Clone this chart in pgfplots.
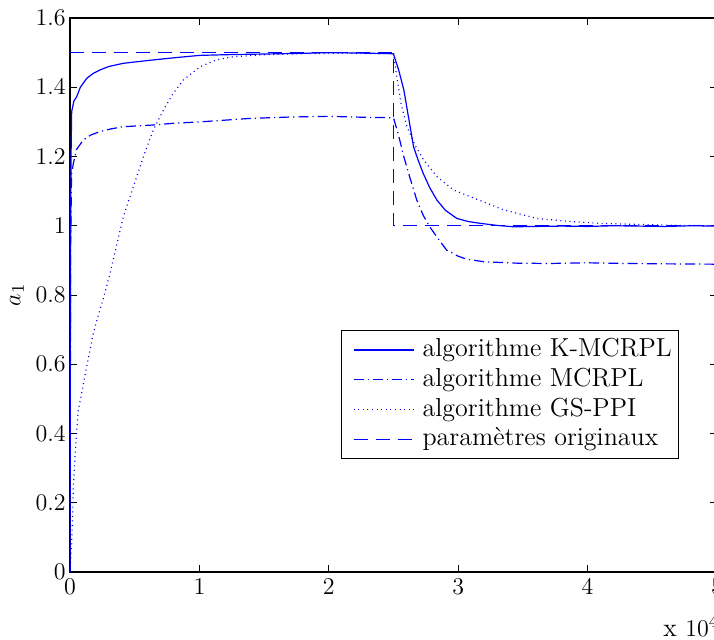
\documentclass[border=0pt]{standalone}
\usepackage{pgfplots}
\pgfplotsset{compat=1.18}
\begin{document}
\begin{tikzpicture}
\useasboundingbox (-35pt,-33.5pt) rectangle (322pt,286pt);
\clip (-35pt,-33.5pt) rectangle (322pt,286pt);
\begin{axis}[
  at={(0pt,0pt)}, anchor=south west,
  scale only axis,
  width=323.5pt, height=277pt,
  xmin=0, xmax=5, ymin=0, ymax=1.6,
  xtick={0,1,2,3,4,5},
  ytick={0,0.2,0.4,0.6,0.8,1,1.2,1.4,1.6},
  tick align=inside,
  major tick length=3.5pt,
  axis line style={line width=0.6pt},
  every tick/.style={black, line width=0.5pt},
  tick label style={font=\fontsize{13}{15}\selectfont},
  yticklabel style={inner xsep=2pt},
  ylabel={$a_1$},
  ylabel style={at={(axis description cs:-0.082,0.5)}, anchor=center, font=\fontsize{13}{15}\selectfont},
  legend cell align=left,
  legend style={at={(0.419,0.437)}, anchor=north west, draw=black, line width=0.5pt, fill=white,
    font=\fontsize{13}{15}\selectfont, inner xsep=1.5pt, inner ysep=2.3pt, row sep=0pt,
    nodes={inner ysep=1.7pt, inner xsep=2pt, text height=9pt, text depth=2.5pt}},
  legend image code/.code={\path[draw=none] (0pt,0pt) -- (37pt,0pt); \draw[#1, draw=blue] (4.5pt,0pt) -- (34.5pt,0pt);},
]
\addplot[blue, line width=0.6pt] coordinates {
(0,0) (0.004,0.9) (0.008,1.2) (0.013,1.33) (0.03,1.36) (0.052,1.373) (0.08,1.40) (0.13,1.426)
(0.18,1.44) (0.232,1.45) (0.3,1.46) (0.41,1.469) (0.5,1.473) (0.62,1.478) (0.8,1.485)
(1.0,1.492) (1.2,1.494) (1.5,1.496) (1.8,1.498) (2.0,1.50) (2.2,1.499) (2.48,1.497) (2.50,1.496)
(2.54,1.45) (2.58,1.392) (2.62,1.305) (2.655,1.228) (2.69,1.19) (2.73,1.151) (2.78,1.11)
(2.836,1.074) (2.9,1.045) (2.99,1.021) (3.08,1.012) (3.17,1.007) (3.3,1.001) (3.43,0.997)
(3.6,0.998) (3.8,0.999) (4.0,0.998) (4.2,1.0) (4.4,0.999) (4.6,0.998) (4.8,1.0) (5.0,0.999)
};
\addlegendentry{algorithme K-MCRPL}
\addplot[blue, line width=0.6pt, dash pattern=on 5pt off 2pt on 0.6pt off 2pt] coordinates {
(0,0) (0.005,0.95) (0.012,1.15) (0.026,1.18) (0.05,1.22) (0.103,1.248) (0.16,1.262) (0.232,1.272)
(0.32,1.28) (0.41,1.286) (0.644,1.291) (0.8,1.296) (1.005,1.30) (1.2,1.305) (1.39,1.31)
(1.7,1.314) (2.0,1.316) (2.3,1.313) (2.5,1.312) (2.54,1.26) (2.58,1.199) (2.63,1.135)
(2.68,1.074) (2.73,1.03) (2.78,0.997) (2.85,0.96) (2.91,0.93) (3.0,0.912) (3.07,0.903)
(3.2,0.896) (3.45,0.892) (3.7,0.891) (4.0,0.893) (4.3,0.891) (4.6,0.890) (5.0,0.889)
};
\addlegendentry{algorithme MCRPL}
\addplot[blue, line width=0.6pt, dash pattern=on 0.5pt off 1.8pt] coordinates {
(0,0) (0.013,0.083) (0.021,0.17) (0.026,0.246) (0.039,0.333) (0.052,0.41) (0.064,0.468)
(0.09,0.516) (0.116,0.569) (0.142,0.617) (0.18,0.689) (0.219,0.742) (0.258,0.79) (0.31,0.863)
(0.343,0.916) (0.412,1.026) (0.49,1.113) (0.567,1.199) (0.644,1.277) (0.722,1.334)
(0.799,1.383) (0.876,1.421) (1.005,1.459) (1.13,1.479) (1.26,1.488) (1.5,1.494) (1.8,1.497)
(2.1,1.498) (2.5,1.497) (2.53,1.42) (2.56,1.35) (2.604,1.286) (2.67,1.23) (2.733,1.19)
(2.836,1.142) (2.965,1.103) (3.094,1.084) (3.35,1.046) (3.61,1.021) (3.87,1.012) (4.1,1.007)
(4.38,1.004) (4.7,1.001) (5.0,1.0)
};
\addlegendentry{algorithme GS-PPI}
\addplot[blue, line width=0.6pt, dash pattern=on 7pt off 4pt] coordinates {
(0,1.5) (2.5,1.5) (2.5,1.0) (5,1.0)
};
\addlegendentry{paramètres originaux}
\end{axis}
\node[anchor=base west, font=\fontsize{13}{15}\selectfont, inner sep=0pt] at (296.5pt,-32pt) {x $10^4$};
\end{tikzpicture}
\end{document}
